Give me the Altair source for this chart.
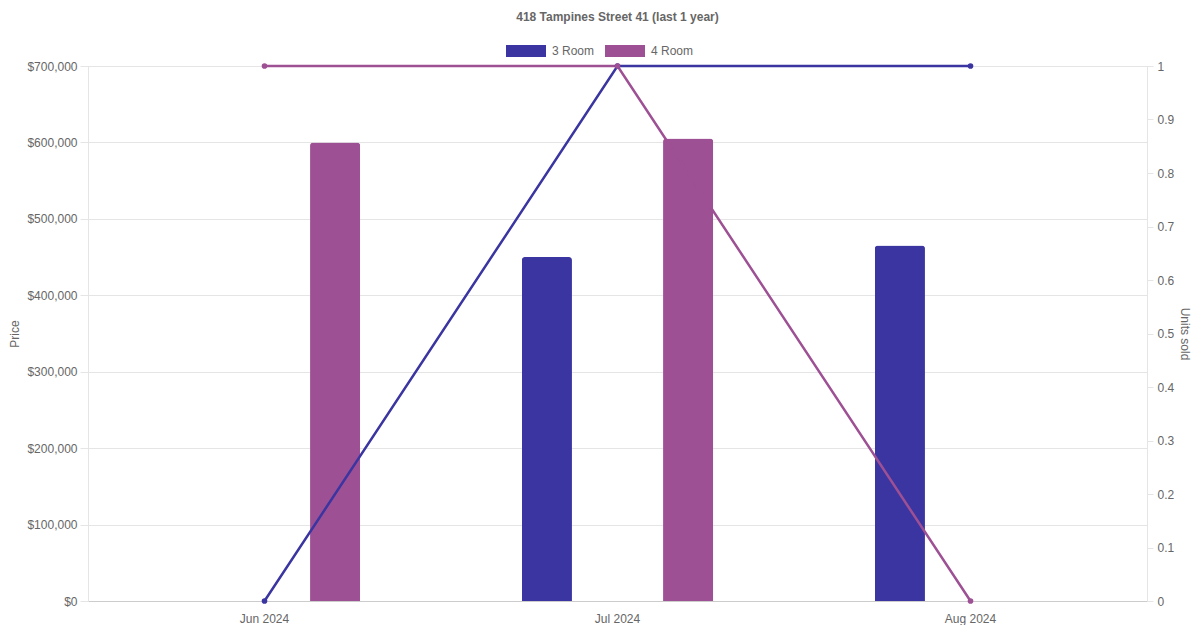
import altair as alt
import pandas as pd

months = ["Jun 2024", "Jul 2024", "Aug 2024"]
room_types = ["3 Room", "4 Room"]
price_3room = [None, 450000, 465000]
price_4room = [600000, 605000, None]
units_3room = [0, 1, 1]
units_4room = [1, 1, 0]
colors = ["#3a35a0", "#9e5094"]
title_text = "418 Tampines Street 41 (last 1 year)"

rows = []
for i, m in enumerate(months):
    rows.append({"month": m, "room": "3 Room", "price": price_3room[i], "units": units_3room[i]})
    rows.append({"month": m, "room": "4 Room", "price": price_4room[i], "units": units_4room[i]})
df = pd.DataFrame(rows)
bars_df = df.dropna(subset=["price"])

FONT = "Liberation Sans"
GREY = "#666666"
GRID = "#e5e5e5"

x_enc = alt.X("month:N", sort=months, title=None,
              scale=alt.Scale(domain=months, paddingInner=0, paddingOuter=0),
              axis=alt.Axis(labelAngle=0, ticks=False, tickSize=0, labelPadding=12,
                            domainColor="#cccccc", grid=False, labelFontSize=12,
                            labelColor=GREY, labelFont=FONT))

color_scale = alt.Scale(domain=room_types, range=colors)

legend = alt.Legend(title=None, orient="none", direction="horizontal",
                    legendX=418, legendY=-35,
                    symbolType="M-1,-0.3H1V0.3H-1Z", symbolSize=1600,
                    symbolStrokeWidth=0, labelFontSize=12, labelColor=GREY,
                    labelFont=FONT, labelOffset=6, columnPadding=10, padding=0)

bars = alt.Chart(bars_df).mark_bar(cornerRadiusTopLeft=3, cornerRadiusTopRight=3).encode(
    x=x_enc,
    xOffset=alt.XOffset("room:N", scale=alt.Scale(domain=room_types, paddingInner=0.645, paddingOuter=0.5725)),
    y=alt.Y("price:Q", title="Price",
            scale=alt.Scale(domain=[0, 700000], nice=False),
            axis=alt.Axis(orient="left", format="$,.0f", values=[0, 100000, 200000, 300000, 400000, 500000, 600000, 700000],
                          grid=True, gridColor=GRID, tickColor=GRID, tickSize=8,
                          domainColor=GRID, labelPadding=3, labelFontSize=12,
                          labelColor=GREY, labelFont=FONT, titleFontSize=12,
                          titleColor=GREY, titleFont=FONT, titleFontWeight="normal",
                          titlePadding=5)),
    color=alt.Color("room:N", scale=color_scale, legend=legend),
)

lines = alt.Chart(df).mark_line(strokeWidth=2.5, point=alt.OverlayMarkDef(filled=True, size=32)).encode(
    x=x_enc,
    y=alt.Y("units:Q", title="Units sold",
            scale=alt.Scale(domain=[0, 1], nice=False),
            axis=alt.Axis(orient="right", values=[0, 0.1, 0.2, 0.3, 0.4, 0.5, 0.6, 0.7, 0.8, 0.9, 1],
                          format="~g", grid=False, tickColor=GRID, tickSize=6,
                          domainColor=GRID, labelPadding=4, labelFontSize=12,
                          labelColor=GREY, labelFont=FONT, titleFontSize=12,
                          titleColor=GREY, titleFont=FONT, titleFontWeight="normal",
                          titlePadding=4)),
    color=alt.Color("room:N", scale=color_scale, legend=None),
)

chart = alt.layer(bars, lines).resolve_scale(y="independent").properties(
    width=1059, height=535,
    title=alt.TitleParams(title_text, fontSize=12, fontWeight="bold", color=GREY,
                          font=FONT, anchor="middle", frame="group", offset=7),
    autosize=alt.AutoSizeParams(type="none"),
    padding={"left": 80, "top": 58, "right": 45, "bottom": 24},
).configure_view(stroke=None).configure(background="white")

chart.save("out.html", embed_options={"renderer": "svg", "actions": False})
